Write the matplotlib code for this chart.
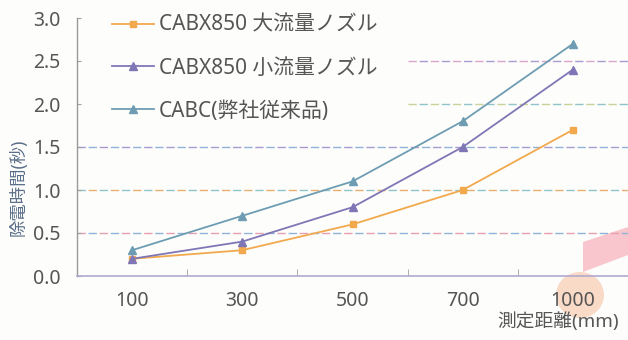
import matplotlib as mpl
import matplotlib.pyplot as plt
from matplotlib.patches import Ellipse, Polygon

mpl.rcParams["font.family"] = ["Noto Sans", "Noto Sans CJK JP", "DejaVu Sans"]

# data
distances = ["100", "300", "500", "700", "1000"]
large_nozzle = [0.2, 0.3, 0.6, 1.0, 1.7]
small_nozzle = [0.2, 0.4, 0.8, 1.5, 2.4]
cabc_old = [0.3, 0.7, 1.1, 1.8, 2.7]
series_labels = ["CABX850 大流量ノズル", "CABX850 小流量ノズル", "CABC(弊社従来品)"]
y_ticks = [0.0, 0.5, 1.0, 1.5, 2.0, 2.5, 3.0]

ORANGE = "#F2A94E"
PURPLE = "#7F76B6"
TEAL = "#6E9DB3"
TEXT = "#555555"

W, H = 628, 340
fig = plt.figure(figsize=(W / 100, H / 100), dpi=100)
fig.patch.set_facecolor("#FDFDFB")
ax = fig.add_axes([77 / W, 64 / H, 551 / W, 258 / H])
ax.set_facecolor("none")

x = list(range(len(distances)))

# dashed guide lines, two colours interleaved like the print
guides = [(0.5, "#E7A0B0", "#8FB3D8", -0.5), (1.0, "#8FC4C8", "#E8B070", -0.5),
          (1.5, "#A79BD0", "#8FB3D8", -0.5), (2.0, "#C8D39A", "#8FC4C8", 2.5),
          (2.5, "#D7A6C8", "#A79BD0", 2.5)]
for yv, c1, c2, x0 in guides:
    ax.plot([x0, 4.5], [yv, yv], color=c1, lw=1.0, dashes=(6, 10), zorder=1)
    ax.plot([x0, 4.5], [yv, yv], color=c2, lw=1.0, dashes=(0, 8, 6, 2), zorder=1)

ax.plot(x, large_nozzle, color=ORANGE, lw=1.3, marker="s", ms=5,
        label=series_labels[0], zorder=3)
ax.plot(x, small_nozzle, color=PURPLE, lw=1.3, marker="^", ms=6,
        label=series_labels[1], zorder=3)
ax.plot(x, cabc_old, color=TEAL, lw=1.3, marker="^", ms=6,
        label=series_labels[2], zorder=3)

ax.set_xlim(-0.5, 4.5)
ax.set_ylim(0, 3.0)
ax.set_xticks(x)
ax.set_xticklabels(distances)
ax.set_xticks([0.5, 1.5, 2.5, 3.5], minor=True)
ax.set_yticks(y_ticks)
ax.set_yticklabels([f"{v:.1f}" for v in y_ticks])

for side in ("top", "right"):
    ax.spines[side].set_visible(False)
ax.spines["left"].set_color("#9A9A9A")
ax.spines["bottom"].set_color("#B0A8D0")
ax.spines["left"].set_linewidth(1.0)
ax.spines["bottom"].set_linewidth(1.2)

ax.tick_params(axis="x", which="major", length=0, pad=11, labelsize=14,
               labelcolor=TEXT)
ax.tick_params(axis="x", which="minor", direction="in", length=5,
               color="#A0A0A0")
ax.tick_params(axis="y", direction="in", length=3, color="#A0A0A0",
               labelsize=14, labelcolor=TEXT, pad=12)

ax.set_ylabel("除電時間(秒)", fontsize=12.5, color="#5B6F8A")
ax.yaxis.set_label_coords(-0.089, 0.345)
fig.text(0.985, 0.025, "測定距離(mm)", ha="right", va="bottom",
         fontsize=13.5, color=TEXT)

leg = ax.legend(loc="upper left", bbox_to_anchor=(0.03, 1.085), frameon=False,
                fontsize=15, handlelength=2.0, handletextpad=0.25,
                labelspacing=1.05)
for t in leg.get_texts():
    t.set_color(TEXT)

# decorative shapes printed behind the last category
fig.patches.append(Ellipse((580 / W, 45 / H), 48 / W, 46 / H,
                           transform=fig.transFigure, facecolor="#F8DAC6",
                           edgecolor="none", zorder=-1))
fig.patches.append(Polygon([(583 / W, 68 / H), (1.0, 85 / H),
                            (1.0, 113 / H), (583 / W, 98 / H)],
                           closed=True, transform=fig.transFigure,
                           facecolor="#F8C6CC", edgecolor="none", zorder=-1))

fig.savefig("out.png", dpi=100)
